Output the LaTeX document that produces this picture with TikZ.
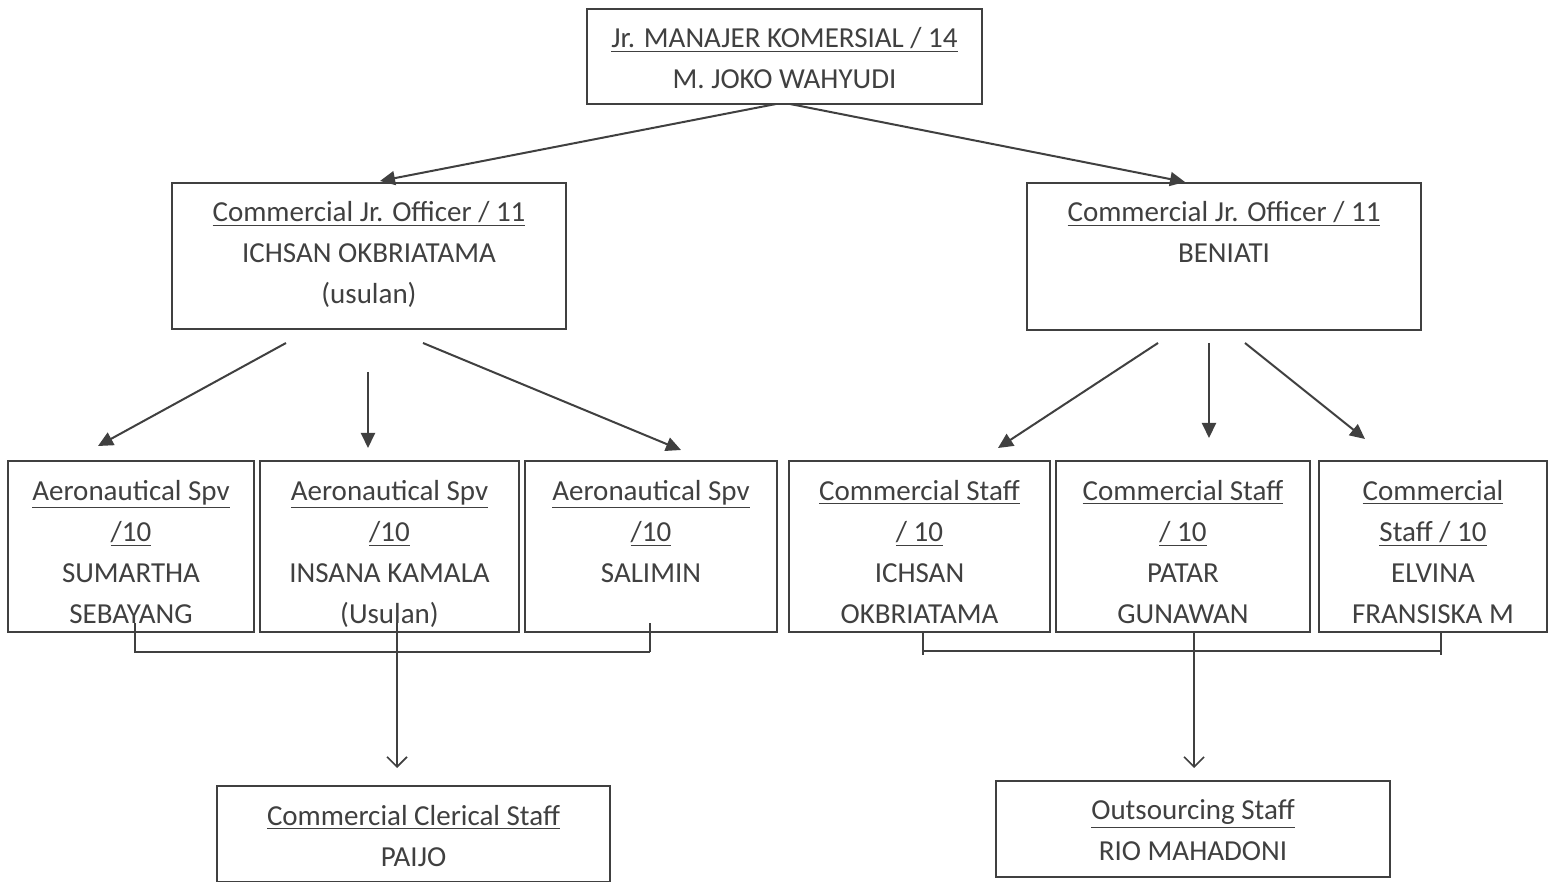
\documentclass[tikz,border=0pt]{standalone}
\usepackage{fontspec}
\setmainfont{Carlito}
\usetikzlibrary{fit,arrows.meta}
\definecolor{ink}{HTML}{404040}
\newcommand\uln[1]{\smash{\underline{#1}}}
\begin{document}
\begin{tikzpicture}[x=0.5pt,y=-0.5pt,
  box/.style={draw=ink, line width=1pt, inner sep=0pt},
  txt/.style={inner sep=0pt, align=center, text=ink,
    font=\fontsize{14.5}{20.5}\selectfont},
  arr/.style={draw=ink, line width=1pt, -{Triangle[length=7.5pt,width=7pt]}},
  oarr/.style={draw=ink, line width=0.8pt, -{Straight Barb[length=5pt,width=10pt]}},
  brk/.style={draw=ink, line width=0.8pt}]
\useasboundingbox[fill=white] (0,0) rectangle (1554,882);

% boxes
\node[box, fit={(587,9) (982,104)}] (top) {};
\node[box, fit={(172,183) (566,329)}] (offL) {};
\node[box, fit={(1027,183) (1421,330)}] (offR) {};
\node[box, fit={(8,461) (254,632)}] (a1) {};
\node[box, fit={(260,461) (519,632)}] (a2) {};
\node[box, fit={(525,461) (777,632)}] (a3) {};
\node[box, fit={(789,461) (1050,632)}] (c1) {};
\node[box, fit={(1056,461) (1310,632)}] (c2) {};
\node[box, fit={(1319,461) (1547,632)}] (c3) {};
\node[box, fit={(217,786) (610,882)}] (cler) {};
\node[box, fit={(996,781) (1390,877)}] (outs) {};

% texts
\node[txt] (topT) at (784.5,59.5) {\strut\uln{Jr. MANAJER KOMERSIAL / 14}\\\strut M. JOKO WAHYUDI};
\node[txt] (offLT) at (369,254.5) {\strut\uln{Commercial Jr. Officer / 11}\\\strut ICHSAN OKBRIATAMA\\\strut(usulan)};
\node[txt] (offRT) at (1224,233.5) {\strut\uln{Commercial Jr. Officer / 11}\\\strut BENIATI};
\node[txt] (a1T) at (131,553.5) {\strut\uln{Aeronautical Spv}\\\strut\uln{/10}\\\strut SUMARTHA\\\strut SEBAYANG};
\node[txt] (a2T) at (389.5,553.5) {\strut\uln{Aeronautical Spv}\\\strut\uln{/10}\\\strut INSANA KAMALA\\\strut(Usulan)};
\node[txt] (a3T) at (651,533) {\strut\uln{Aeronautical Spv}\\\strut\uln{/10}\\\strut SALIMIN};
\node[txt] (c1T) at (919.5,553.5) {\strut\uln{Commercial Staff}\\\strut\uln{/ 10}\\\strut ICHSAN\\\strut OKBRIATAMA};
\node[txt] (c2T) at (1183,553.5) {\strut\uln{Commercial Staff}\\\strut\uln{/ 10}\\\strut PATAR\\\strut GUNAWAN};
\node[txt] (c3T) at (1433,553.5) {\strut\uln{Commercial}\\\strut\uln{Staff / 10}\\\strut ELVINA\\\strut FRANSISKA M};
\node[txt] (clerT) at (413.5,837.5) {\strut\uln{Commercial Clerical Staff}\\\strut PAIJO};
\node[txt] (outsT) at (1193,832) {\strut\uln{Outsourcing Staff}\\\strut RIO MAHADONI};

% connector end points
\coordinate (t1) at (776,104);
\coordinate (t2) at (790,104);
\coordinate (eL) at (380,181);
\coordinate (eR) at (1185,182);

\coordinate (l1s) at (286,343); \coordinate (l1e) at (98,446);
\coordinate (l2s) at (368,372); \coordinate (l2e) at (368,448);
\coordinate (l3s) at (423,343); \coordinate (l3e) at (681,450);

\coordinate (r1s) at (1158,343); \coordinate (r1e) at (998,448);
\coordinate (r2s) at (1209,343); \coordinate (r2e) at (1209,438);
\coordinate (r3s) at (1245,343); \coordinate (r3e) at (1365,439);

\draw[arr] (t1) -- (eL);
\draw[arr] (t2) -- (eR);
\draw[arr] (l1s) -- (l1e);
\draw[arr] (l2s) -- (l2e);
\draw[arr] (l3s) -- (l3e);
\draw[arr] (r1s) -- (r1e);
\draw[arr] (r2s) -- (r2e);
\draw[arr] (r3s) -- (r3e);

% left bracket
\coordinate (bl1) at (135,623); \coordinate (bl1b) at (135,653);
\coordinate (bl3) at (650,623); \coordinate (bl3b) at (650,652);
\coordinate (bl2) at (397,623); \coordinate (bl2e) at (397,768);
\draw[brk] (bl1) -- (bl1b) (135,652) -- (650,652) (bl3) -- (bl3b);
\draw[oarr] (bl2) -- (bl2e);

% right bracket
\coordinate (br1) at (923,632); \coordinate (br1b) at (923,655);
\coordinate (br3) at (1441,632); \coordinate (br3b) at (1441,655);
\coordinate (br2) at (1194,631); \coordinate (br2e) at (1194,768);
\draw[brk] (br1) -- (br1b) (923,651) -- (1441,651) (br3) -- (br3b);
\draw[oarr] (br2) -- (br2e);
\end{tikzpicture}
\end{document}
